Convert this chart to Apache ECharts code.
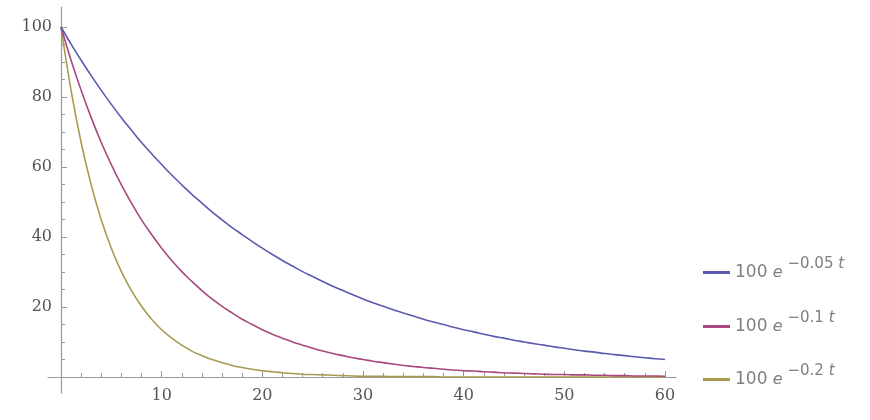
<!DOCTYPE html>
<html>
<head>
<meta charset="utf-8">
<script src="https://cdn.jsdelivr.net/npm/echarts@6/dist/echarts.min.js"></script>
<style>
  html, body { margin: 0; padding: 0; background: #fff; }
  #chart { width: 870px; height: 420px; }
</style>
</head>
<body>
<div id="chart"></div>
<script>
// t values (0 .. 60)
const tValues = [0, 1, 2, 3, 4, 5, 6, 7, 8, 9, 10, 11, 12, 13, 14, 15, 16, 17, 18, 19, 20,
  21, 22, 23, 24, 25, 26, 27, 28, 29, 30, 31, 32, 33, 34, 35, 36, 37, 38, 39, 40,
  41, 42, 43, 44, 45, 46, 47, 48, 49, 50, 51, 52, 53, 54, 55, 56, 57, 58, 59, 60];

// 100 e^-0.05t
const slowDecay = [100, 95.1, 90.5, 86.1, 81.9, 77.9, 74.1, 70.5, 67.0, 63.8, 60.7,
  57.7, 54.9, 52.2, 49.7, 47.2, 44.9, 42.7, 40.7, 38.7, 36.8,
  35.0, 33.3, 31.7, 30.1, 28.7, 27.3, 25.9, 24.7, 23.5, 22.3,
  21.2, 20.2, 19.2, 18.3, 17.4, 16.5, 15.7, 15.0, 14.2, 13.5,
  12.9, 12.2, 11.6, 11.1, 10.5, 10.0, 9.5, 9.1, 8.6, 8.2,
  7.8, 7.4, 7.1, 6.7, 6.4, 6.1, 5.8, 5.5, 5.2, 5.0];

// 100 e^-0.1t
const midDecay = [100, 90.5, 81.9, 74.1, 67.0, 60.7, 54.9, 49.7, 44.9, 40.7, 36.8,
  33.3, 30.1, 27.3, 24.7, 22.3, 20.2, 18.3, 16.5, 15.0, 13.5,
  12.2, 11.1, 10.0, 9.1, 8.2, 7.4, 6.7, 6.1, 5.5, 5.0,
  4.5, 4.1, 3.7, 3.3, 3.0, 2.7, 2.5, 2.2, 2.0, 1.8,
  1.7, 1.5, 1.4, 1.2, 1.1, 1.0, 0.9, 0.8, 0.7, 0.7,
  0.6, 0.6, 0.5, 0.5, 0.4, 0.4, 0.3, 0.3, 0.3, 0.2];

// 100 e^-0.2t
const fastDecay = [100, 81.9, 67.0, 54.9, 44.9, 36.8, 30.1, 24.7, 20.2, 16.5, 13.5,
  11.1, 9.1, 7.4, 6.1, 5.0, 4.1, 3.3, 2.7, 2.2, 1.8,
  1.5, 1.2, 1.0, 0.8, 0.7, 0.6, 0.5, 0.4, 0.3, 0.2,
  0.2, 0.2, 0.1, 0.1, 0.1, 0.1, 0.1, 0.0, 0.0, 0.0,
  0.0, 0.0, 0.0, 0.0, 0.0, 0.0, 0.0, 0.0, 0.0, 0.0,
  0.0, 0.0, 0.0, 0.0, 0.0, 0.0, 0.0, 0.0, 0.0, 0.0];

const seriesNames = ['100 e^-0.05t', '100 e^-0.1t', '100 e^-0.2t'];
const exponents = ['\u22120.05', '\u22120.1', '\u22120.2'];
const colors = ['#5a5ab0', '#a8487e', '#a89a50'];

const chart = echarts.init(document.getElementById('chart'));

const toPoints = (ys) => tValues.map((t, i) => [t, ys[i]]);
const allSeries = [slowDecay, midDecay, fastDecay];

const supStyle = { fontFamily: 'DejaVu Sans', fontSize: 15, color: '#808080', padding: [0, 0, 16, 0] };

// one legend per entry so each row sits where the picture has it
const legendTops = [252, 306, 359];
const legends = seriesNames.map((name, i) => ({
  data: [name],
  left: 698,
  top: legendTops[i],
  icon: 'rect',
  itemWidth: 27,
  itemHeight: 3,
  itemGap: 10,
  selectedMode: false,
  formatter: () => '{n|100 }{e|e}{s| ' + exponents[i] + ' }{t|t}',
  textStyle: {
    color: '#808080',
    rich: {
      n: { fontFamily: 'DejaVu Sans', fontSize: 17, color: '#808080' },
      e: { fontFamily: 'DejaVu Sans', fontStyle: 'italic', fontSize: 16, color: '#808080' },
      s: supStyle,
      t: Object.assign({}, supStyle, { fontStyle: 'italic' })
    }
  }
}));

const tickLabel = {
  color: '#555',
  fontFamily: 'DejaVu Serif',
  fontSize: 16,
  formatter: (v) => (v === 0 ? '' : String(v))
};

chart.setOption({
  animation: false,
  legend: legends,
  grid: [
    // plotting area: t 0..60, y 0..100
    { left: 61, width: 604, top: 27, height: 350 },
    // axis lines only, reaching a little past the data like the original
    { left: 48, right: 194, top: 7, bottom: 27 }
  ],
  xAxis: [
    {
      type: 'value', gridIndex: 0, min: 0, max: 60, interval: 10,
      axisLine: { show: false },
      axisTick: { show: true, inside: true, length: 6, lineStyle: { color: '#999' } },
      minorTick: { show: true, splitNumber: 5, length: 4, lineStyle: { color: '#999' } },
      splitLine: { show: false },
      axisLabel: Object.assign({ margin: 11 }, tickLabel)
    },
    {
      type: 'value', gridIndex: 1, min: -1.29, max: 61.09,
      axisLine: { show: true, onZero: true, lineStyle: { color: '#999', width: 1.2 } },
      axisTick: { show: false },
      axisLabel: { show: false },
      splitLine: { show: false }
    }
  ],
  yAxis: [
    {
      type: 'value', gridIndex: 0, min: 0, max: 100, interval: 20,
      axisLine: { show: false },
      axisTick: { show: true, inside: true, length: 6, lineStyle: { color: '#999' } },
      minorTick: { show: true, splitNumber: 4, length: 4, lineStyle: { color: '#999' } },
      splitLine: { show: false },
      axisLabel: Object.assign({ margin: 9 }, tickLabel)
    },
    {
      type: 'value', gridIndex: 1, min: -4.57, max: 105.71,
      axisLine: { show: true, onZero: true, lineStyle: { color: '#999', width: 1.2 } },
      axisTick: { show: false },
      axisLabel: { show: false },
      splitLine: { show: false }
    }
  ],
  series: allSeries.map((ys, i) => ({
    name: seriesNames[i],
    type: 'line',
    xAxisIndex: 0,
    yAxisIndex: 0,
    data: toPoints(ys),
    showSymbol: false,
    smooth: 0.4,
    clip: false,
    color: colors[i],
    lineStyle: { color: colors[i], width: 1.6 },
    z: 3 - i
  }))
});
</script>
</body>
</html>
